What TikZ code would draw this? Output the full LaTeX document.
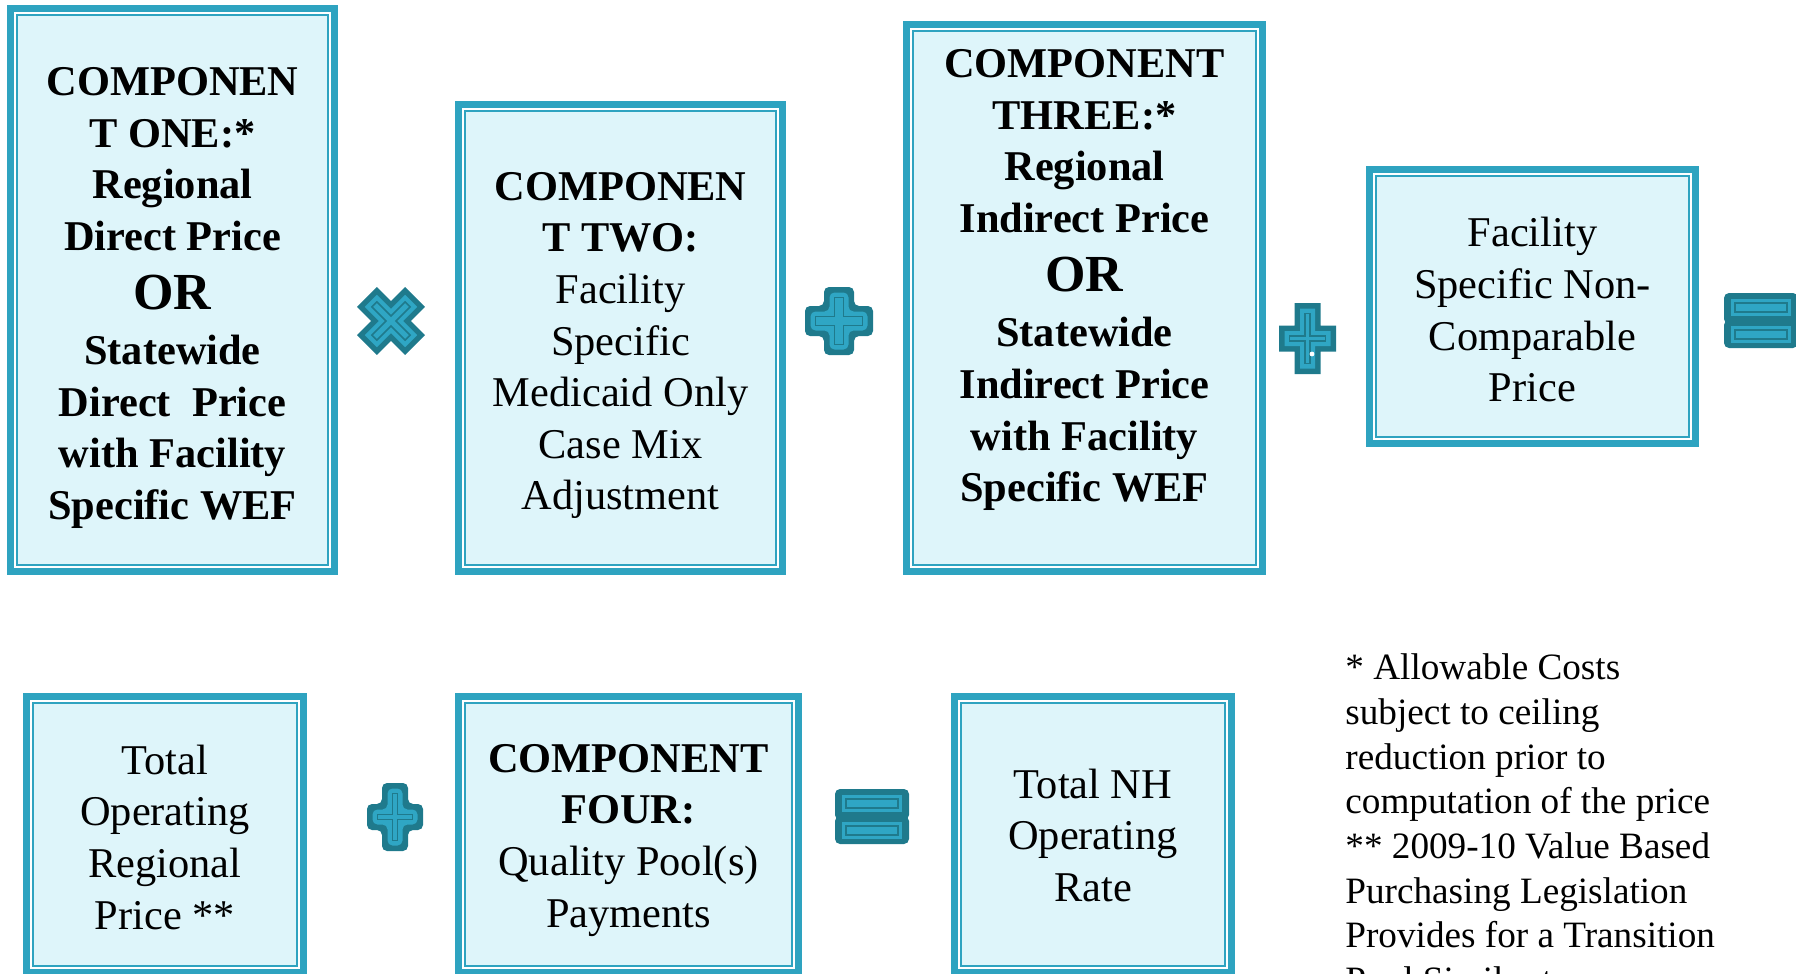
\documentclass[tikz,border=0pt]{standalone}
\usepackage{fontspec}
\setmainfont{Liberation Serif}
\usetikzlibrary{positioning}

\definecolor{boxline}{RGB}{46,163,192}
\definecolor{boxfill}{RGB}{222,245,250}
\definecolor{opdark}{RGB}{31,122,140}
\definecolor{oplight}{RGB}{47,166,196}

% plus outline: half width, half height, half arm
\newcommand{\crosspath}[3]{({-#3},{-#2}) -- ({#3},{-#2}) -- ({#3},{-#3}) -- ({#1},{-#3}) -- ({#1},{#3}) -- ({#3},{#3}) -- ({#3},{#2}) -- ({-#3},{#2}) -- ({-#3},{#3}) -- ({-#1},{#3}) -- ({-#1},{-#3}) -- ({-#3},{-#3}) -- cycle}

\newcommand{\opcross}[7]{%
  \begin{scope}[shift={(#1,#2)}, rotate=#6]
    \pgfmathsetmacro\hxa{#3-5.5}\pgfmathsetmacro\hya{#4-5.5}\pgfmathsetmacro\wa{#5-5.5}
    \pgfmathsetmacro\hxb{#3-10.5}\pgfmathsetmacro\hyb{#4-10.5}\pgfmathsetmacro\wb{#5-10.5}
    \fill[opdark, #7] \crosspath{#3}{#4}{#5};
    \fill[oplight, #7] \crosspath{\hxa}{\hya}{\wa};
    \draw[opdark, line width=0.8pt] \crosspath{\hxb}{\hyb}{\wb};
  \end{scope}}

\newcommand{\opequals}[2]{%
  \begin{scope}[shift={(#1,#2)}]
    \fill[opdark, rounded corners=2.5pt] (0,0) rectangle (74,31);
    \fill[opdark, rounded corners=2.5pt] (0,27) rectangle (74,55);
    \foreach \t in {0,27} {
      \fill[oplight] (7,\t+6) rectangle (67,\t+23);
      \draw[opdark, line width=0.8pt] (11,\t+10) rectangle (63,\t+19);
    }
  \end{scope}}

\newcommand{\bigor}{\\[3.6pt]{\fontsize{26}{30}\selectfont OR}\\[2pt]}

\begin{document}
\begin{tikzpicture}[
        x=0.5pt, y=-0.5pt,
        compbox/.style={rectangle, inner sep=0pt, outer sep=0pt, fill=boxfill,
            preaction={draw=boxline, line width=11pt},
            preaction={draw=white, line width=4.3pt},
            preaction={draw=boxline, line width=1.6pt}},
        boxtext/.style={align=center, inner sep=0pt, font=\fontsize{21.2}{25.8}\selectfont},
        boldtext/.style={boxtext, font=\bfseries\fontsize{21.2}{25.8}\selectfont},
        notetext/.style={align=left, inner sep=0pt, font=\fontsize{18.6}{22.35}\selectfont}
        ]
        \useasboundingbox (0,0) rectangle (1796,974);
        \clip (0,0) rectangle (1796,974);

        % top row
        \node[compbox, minimum width=154.5pt, minimum height=274pt] (c1) at (172.5,290) {};
            \node[boldtext] (c1text) at ([yshift=-4pt]c1.center)
                {COMPONEN\\T ONE:*\\Regional\\Direct Price\bigor Statewide\\Direct\ \ Price\\with Facility\\Specific WEF};
        \node[compbox, minimum width=154.5pt, minimum height=226pt] (c2) at (620.5,338) {};
            \node[boxtext] (c2text) at ([yshift=-3.75pt]c2.center)
                {\textbf{COMPONEN}\\\textbf{T TWO:}\\Facility\\Specific\\Medicaid Only\\Case Mix\\Adjustment};
        \node[compbox, minimum width=170.5pt, minimum height=266pt] (c3) at (1084.5,298) {};
            \node[boldtext, anchor=north] (c3text) at ([yshift=-8.6pt]c3.north)
                {COMPONENT\\THREE:*\\Regional\\Indirect Price\bigor Statewide\\Indirect Price\\with Facility\\Specific WEF};
        \node[compbox, minimum width=155.5pt, minimum height=129.5pt] (c4) at (1532.5,306.5) {};
            \node[boxtext] (c4text) at ([yshift=-1.6pt]c4.center)
                {Facility\\Specific Non-\\Comparable\\Price};

        % bottom row
        \node[compbox, minimum width=131pt, minimum height=130.5pt] (b1) at (165,834.5) {};
            \node[boxtext] (b1text) at ([yshift=-1.3pt]b1.center)
                {Total\\Operating\\Regional\\Price **};
        \node[compbox, minimum width=162.5pt, minimum height=130.5pt] (b2) at (628.5,834.5) {};
            \node[boxtext] (b2text) at ([yshift=-2.9pt]b2.center)
                {\textbf{COMPONENT}\\\textbf{FOUR:}\\Quality Pool(s)\\Payments};
        \node[compbox, minimum width=131pt, minimum height=130.5pt] (b3) at (1093,834.5) {};
            \node[boxtext] (b3text) at ([yshift=-0.3pt]b3.center)
                {Total NH\\Operating\\Rate};

        % operators
        \opcross{391}{321}{34}{34}{14}{45}{sharp corners}
        \opcross{839}{321}{34}{34}{15}{0}{rounded corners=2.5pt}
        \opcross{1307.5}{338.5}{28.5}{35.5}{13}{0}{sharp corners}
        \fill[white] (1312,354) circle (1.2pt);
        \opequals{1724}{293}
        \opcross{395}{817}{28}{34}{13}{0}{rounded corners=2.5pt}
        \opequals{835}{789}

        \node[notetext, anchor=north west] (note) at (1345,653.5)
            {* Allowable Costs\\subject to ceiling\\reduction prior to\\computation of the price\\** 2009-10 Value Based\\Purchasing Legislation\\Provides for a Transition\\Pool Similar to};
\end{tikzpicture}
\end{document}
